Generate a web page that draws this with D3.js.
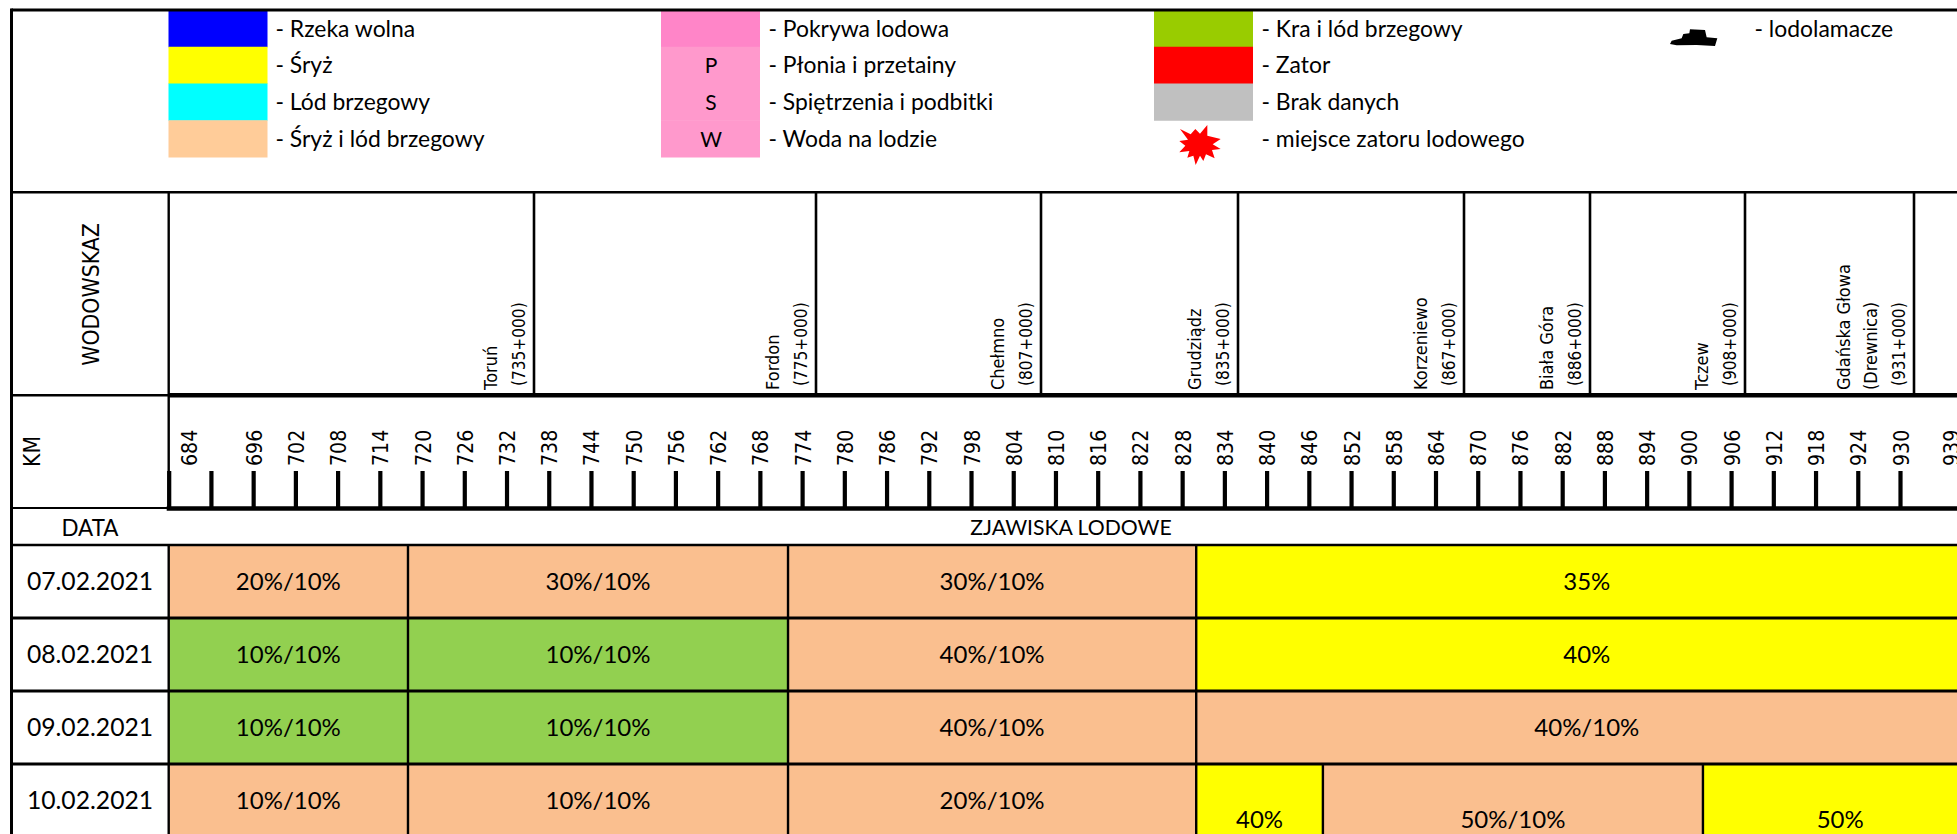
<!DOCTYPE html>
<html>
<head>
<meta charset="utf-8">
<title>Zjawiska lodowe</title>
<script src="https://cdnjs.cloudflare.com/ajax/libs/d3/7.8.5/d3.min.js"></script>
<style>
  html, body { margin: 0; padding: 0; background: #fff; overflow: hidden; }
  svg { display: block; }
  .cal { font-family: Lato, "Open Sans", sans-serif; fill: #000; }
  .dv { font-family: "DejaVu Sans", sans-serif; fill: #000; }
</style>
</head>
<body>
<div id="chart"></div>
<script>
// legend columns
const legendLeft = ['- Rzeka wolna', '- Śryż', '- Lód brzegowy', '- Śryż i lód brzegowy'];
const legendLeftColors = ['#0000ff', '#ffff00', '#00ffff', '#ffcc99'];
const legendMid = ['- Pokrywa lodowa', '- Płonia i przetainy', '- Spiętrzenia i podbitki', '- Woda na lodzie'];
const legendMidColors = ['#ff85c8', '#ff99cc', '#ff99cc', '#ff99cc'];
const legendMidLetters = ['', 'P', 'S', 'W'];
const legendRight = ['- Kra i lód brzegowy', '- Zator', '- Brak danych', '- miejsce zatoru lodowego'];
const legendRightColors = ['#99cc00', '#ff0000', '#c0c0c0', null];

// gauges along the river, [name lines, chainage line]
const gauges = [
  [['Toruń'], '(735+000)'],
  [['Fordon'], '(775+000)'],
  [['Chełmno'], '(807+000)'],
  [['Grudziądz'], '(835+000)'],
  [['Korzeniewo'], '(867+000)'],
  [['Biała Góra'], '(886+000)'],
  [['Tczew'], '(908+000)'],
  [['Gdańska Głowa', '(Drewnica)'], '(931+000)']
];
const gaugeDividers = [534, 816, 1041, 1238, 1464, 1590, 1745, 1914];

const kmTicks = d3.range(684, 931, 6);
const kmLabels = kmTicks.filter(k => k !== 690).concat([939]);

const dates = ['07.02.2021', '08.02.2021', '09.02.2021', '10.02.2021'];
const PEACH = '#fabf8f', GREEN = '#92d050', YELLOW = '#ffff00';
// one row per day: [from km, to km, label, colour]
const ice0702 = [[684, 718, '20%/10%', PEACH], [718, 772, '30%/10%', PEACH], [772, 830, '30%/10%', PEACH], [830, 941, '35%', YELLOW]];
const ice0802 = [[684, 718, '10%/10%', GREEN], [718, 772, '10%/10%', GREEN], [772, 830, '40%/10%', PEACH], [830, 941, '40%', YELLOW]];
const ice0902 = [[684, 718, '10%/10%', GREEN], [718, 772, '10%/10%', GREEN], [772, 830, '40%/10%', PEACH], [830, 941, '40%/10%', PEACH]];
const ice1002 = [[684, 718, '10%/10%', PEACH], [718, 772, '10%/10%', PEACH], [772, 830, '20%/10%', PEACH], [830, 848, '40%', YELLOW], [848, 902, '50%/10%', PEACH], [902, 941, '50%', YELLOW]];
const iceRows = [ice0702, ice0802, ice0902, ice1002];

const width = 1957, height = 834;
const left = 11.5, axisX = 168.7;
const yTop = 10, yLegend = 192.3, yGauge = 395.3, yKm = 508.5, yData = 545;
const rowH = 73;

const x = d3.scaleLinear().domain([684, 930]).range([axisX, 1900]);

const svg = d3.select('#chart').append('svg')
  .attr('width', width).attr('height', height)
  .attr('role', 'img')
  .attr('aria-label', 'Zjawiska lodowe na Wiśle, 07-10.02.2021');

function hline(y, w, x0) {
  svg.append('line').attr('x1', x0 === undefined ? left : x0).attr('x2', width)
    .attr('y1', y).attr('y2', y).attr('stroke', '#000').attr('stroke-width', w);
}
function vline(xp, y1, y2, w) {
  svg.append('line').attr('x1', xp).attr('x2', xp)
    .attr('y1', y1).attr('y2', y2).attr('stroke', '#000').attr('stroke-width', w);
}
// rotated labels in the original are stretched across the line
function rotText(tx, ty, size, t, anchor) {
  svg.append('text').attr('class', 'dv').attr('font-size', size)
    .attr('transform', `translate(${tx},${ty}) rotate(-90) scale(1,1.14)`)
    .attr('text-anchor', anchor || 'start').text(t);
}

// Legend
const legY = d3.scaleBand().domain(d3.range(4)).range([10, 157]);

function legendCol(labels, colors, swatchX, textX) {
  labels.forEach((t, i) => {
    if (colors[i]) {
      svg.append('rect').attr('x', swatchX).attr('y', legY(i))
        .attr('width', 99).attr('height', legY.bandwidth() + 0.5).attr('fill', colors[i]);
    }
    svg.append('text').attr('class', 'cal').attr('x', textX).attr('y', legY(i) + 26.5)
      .attr('font-size', 22.9).text(t);
  });
}
legendCol(legendLeft, legendLeftColors, 168.5, 275.5);
legendCol(legendMid, legendMidColors, 661, 768.5);
legendCol(legendRight, legendRightColors, 1154, 1261.5);

legendMidLetters.forEach((t, i) => {
  svg.append('text').attr('class', 'cal').attr('x', 711).attr('y', legY(i) + 26.5)
    .attr('text-anchor', 'middle').attr('font-size', 21).text(t);
});

const starPts = [[90, 42], [122, 58], [136, 42], [150, 56], [172, 30], [172, 62], [212, 72], [188, 88], [212, 102], [186, 105],
  [194, 130], [168, 118], [160, 138], [150, 122], [137, 150], [130, 122], [112, 128], [118, 108], [88, 112], [106, 92], [88, 78], [114, 74]];
svg.append('path').attr('transform', 'translate(1150,115) scale(0.3333)')
  .attr('d', d3.line()(starPts) + 'Z').attr('fill', '#ff0000');

// icebreaker
const shipPts = [[30, 72], [35, 62], [65, 55], [70, 42], [88, 40], [90, 28], [135, 30], [140, 52], [172, 55], [165, 78], [110, 75], [50, 76]];
svg.append('path').attr('transform', 'translate(1660,20) scale(0.3333)')
  .attr('d', d3.line()(shipPts) + 'Z').attr('fill', '#000');
svg.append('text').attr('class', 'cal').attr('x', 1754.5).attr('y', 36.5)
  .attr('font-size', 22.9).text('- lodolamacze');

// Ice cells
iceRows.forEach((row, r) => {
  const y0 = yData + r * rowH;
  row.forEach((d, i) => {
    const x0 = x(d[0]), x1 = x(d[1]);
    svg.append('rect').attr('x', x0).attr('y', y0)
      .attr('width', x1 - x0).attr('height', rowH).attr('fill', d[3]);
    // the split cells of the last day sit lower in the original
    const low = r === 3 && i > 2;
    svg.append('text').attr('class', 'cal')
      .attr('x', (x0 + x1) / 2).attr('y', y0 + (low ? 64 : 45))
      .attr('text-anchor', 'middle').attr('font-size', 24).text(d[2]);
    if (i > 0) vline(x0, y0, Math.min(y0 + rowH, height), 2.4);
  });
  svg.append('text').attr('class', 'cal').attr('x', 90).attr('y', y0 + 45)
    .attr('text-anchor', 'middle').attr('font-size', 24.7).text(dates[r]);
});

// Frame
hline(yTop, 3);
hline(yLegend, 2.6);
hline(yGauge, 2.6);
hline(yGauge, 4.6, axisX);
hline(508, 2);
hline(yData, 2.6);
d3.range(1, 4).forEach(r => hline(yData + r * rowH, 2.8));
vline(left, yTop - 1.5, height, 3);
vline(axisX, yLegend, yKm, 2.4);
vline(axisX, yData, height, 2.4);

// Gauge header
gaugeDividers.forEach((gx, i) => {
  vline(gx, yLegend, yGauge, 2.6);
  const gap = 27.3;
  const numX = gx - 9.5;
  rotText(numX, 386, 15.4, gauges[i][1]);
  gauges[i][0].slice().reverse().forEach((n, j) => {
    rotText(numX - gap * (j + 1), 390, 16.2, n);
  });
});

rotText(99, 294.5, 20.5, 'WODOWSKAZ', 'middle');
rotText(40, 451.5, 20.4, 'KM', 'middle');
svg.append('text').attr('class', 'cal').attr('x', 90).attr('y', 536)
  .attr('text-anchor', 'middle').attr('font-size', 22.4).text('DATA');
svg.append('text').attr('class', 'cal').attr('x', 1071).attr('y', 534.5)
  .attr('text-anchor', 'middle').attr('font-size', 21.2).text('ZJAWISKA LODOWE');

// KM axis
const axisG = svg.append('g').attr('transform', `translate(0,${yKm})`)
  .call(d3.axisTop(x).tickValues(kmTicks).tickSize(37.5).tickSizeOuter(0).tickFormat(''));
axisG.select('.domain').attr('stroke', '#000').attr('stroke-width', 4.3)
  .attr('d', `M${axisX - 2},0H${width}`);
axisG.selectAll('.tick line').attr('stroke', '#000').attr('stroke-width', 4.2);

// 684 and 939 labels are pushed aside in the original
const labelShift = { 684: 20, 939: -13 };
kmLabels.forEach(k => {
  rotText(x(k) + (labelShift[k] || 0) + 8.5, 466, 19, k);
});
</script>
</body>
</html>
